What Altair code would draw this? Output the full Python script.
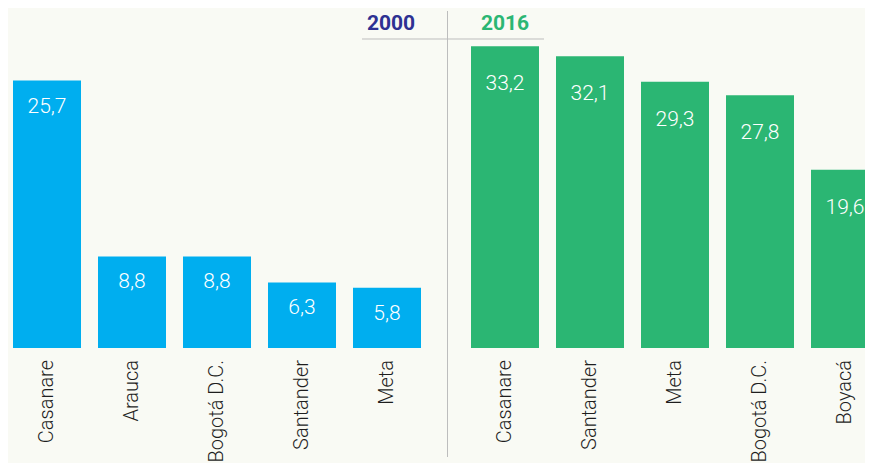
import altair as alt
import pandas as pd

# ---- data ----
cats_2000 = ["Casanare", "Arauca", "Bogotá D.C.", "Santander", "Meta"]
vals_2000 = [25.7, 8.8, 8.8, 6.3, 5.8]
cats_2016 = ["Casanare", "Santander", "Meta", "Bogotá D.C.", "Boyacá"]
vals_2016 = [33.2, 32.1, 29.3, 27.8, 19.6]
year_labels = ["2000", "2016"]

# ---- style ----
BLUE = "#00AEEF"
GREEN = "#2BB673"
NAVY = "#2E3192"
BG = "#F9FAF4"
LINE = "#BDBDBD"
FONT = "Roboto"
H_BARS = 309      # height of the bar zone
H_VIEW = 424      # bar zone + label zone (labels are clipped at the bottom edge)


def fmt(v):
    return f"{v:.1f}".replace(".", ",")


df1 = pd.DataFrame({"cat": cats_2000, "val": vals_2000, "lab": [fmt(v) for v in vals_2000]})
df2 = pd.DataFrame({"cat": cats_2016, "val": vals_2016, "lab": [fmt(v) for v in vals_2016]})


def panel(df, cats, color, ymax, xscale, dy):
    x = alt.X("cat:N", sort=cats, axis=None, scale=xscale)
    y = alt.Y("val:Q", axis=None,
              scale=alt.Scale(domain=[0, ymax], nice=False, range=[H_BARS, 0]))
    bars = alt.Chart(df).mark_bar(color=color, clip=True).encode(x=x, y=y)
    vals = alt.Chart(df).mark_text(color="white", font=FONT, fontSize=21, fontWeight=300,
                                   baseline="middle", dy=dy).encode(x=x, y=y, text="lab:N")
    names = alt.Chart(df).mark_text(color="#1e1e1e", font=FONT, fontSize=20, fontWeight=300,
                                    angle=270, align="right", baseline="middle", clip=True
                                    ).encode(x=x, y=alt.value(H_BARS + 12), text="cat:N")
    return [bars, vals, names]


# panel 2000
xs1 = alt.Scale(paddingInner=0.2, paddingOuter=5 / 85)
layers1 = panel(df1, cats_2000, BLUE, 29.7, xs1, 26)
head1 = alt.Chart(pd.DataFrame({"t": [year_labels[0]]})).mark_text(
    color=NAVY, font=FONT, fontSize=21, fontWeight="bold", baseline="middle", align="center"
).encode(x=alt.value(383), y=alt.value(-15), text="t:N")
p1 = alt.layer(*layers1, head1).properties(width=418, height=H_VIEW)

# panel 2016 (last bar runs past the right edge and is clipped, as in the source)
w2 = 394
xs2 = alt.Scale(paddingInner=0.2, paddingOuter=0, align=0, range=[0, 408])
layers2 = panel(df2, cats_2016, GREEN, 34, xs2, 38)
head2 = alt.Chart(pd.DataFrame({"t": [year_labels[1]]})).mark_text(
    color=GREEN, font=FONT, fontSize=21, fontWeight="bold", baseline="middle", align="center"
).encode(x=alt.value(34), y=alt.value(-15), text="t:N")
hline = alt.Chart(pd.DataFrame({"a": [0]})).mark_rule(color=LINE, strokeWidth=1).encode(
    x=alt.value(-109), x2=alt.value(73), y=alt.value(0))
vline = alt.Chart(pd.DataFrame({"a": [0]})).mark_rule(color=LINE, strokeWidth=1).encode(
    x=alt.value(-23.5), y=alt.value(-28), y2=alt.value(418))
p2 = alt.layer(*layers2, head2, hline, vline).properties(width=w2, height=H_VIEW)

chart = alt.hconcat(p1, p2, spacing=45, bounds="flush").properties(
    padding={"left": 0, "top": 2, "right": 0, "bottom": 0},
    background=BG,
).configure_view(stroke=None)

chart.save("out.html", embed_options={"renderer": "svg", "actions": False})
